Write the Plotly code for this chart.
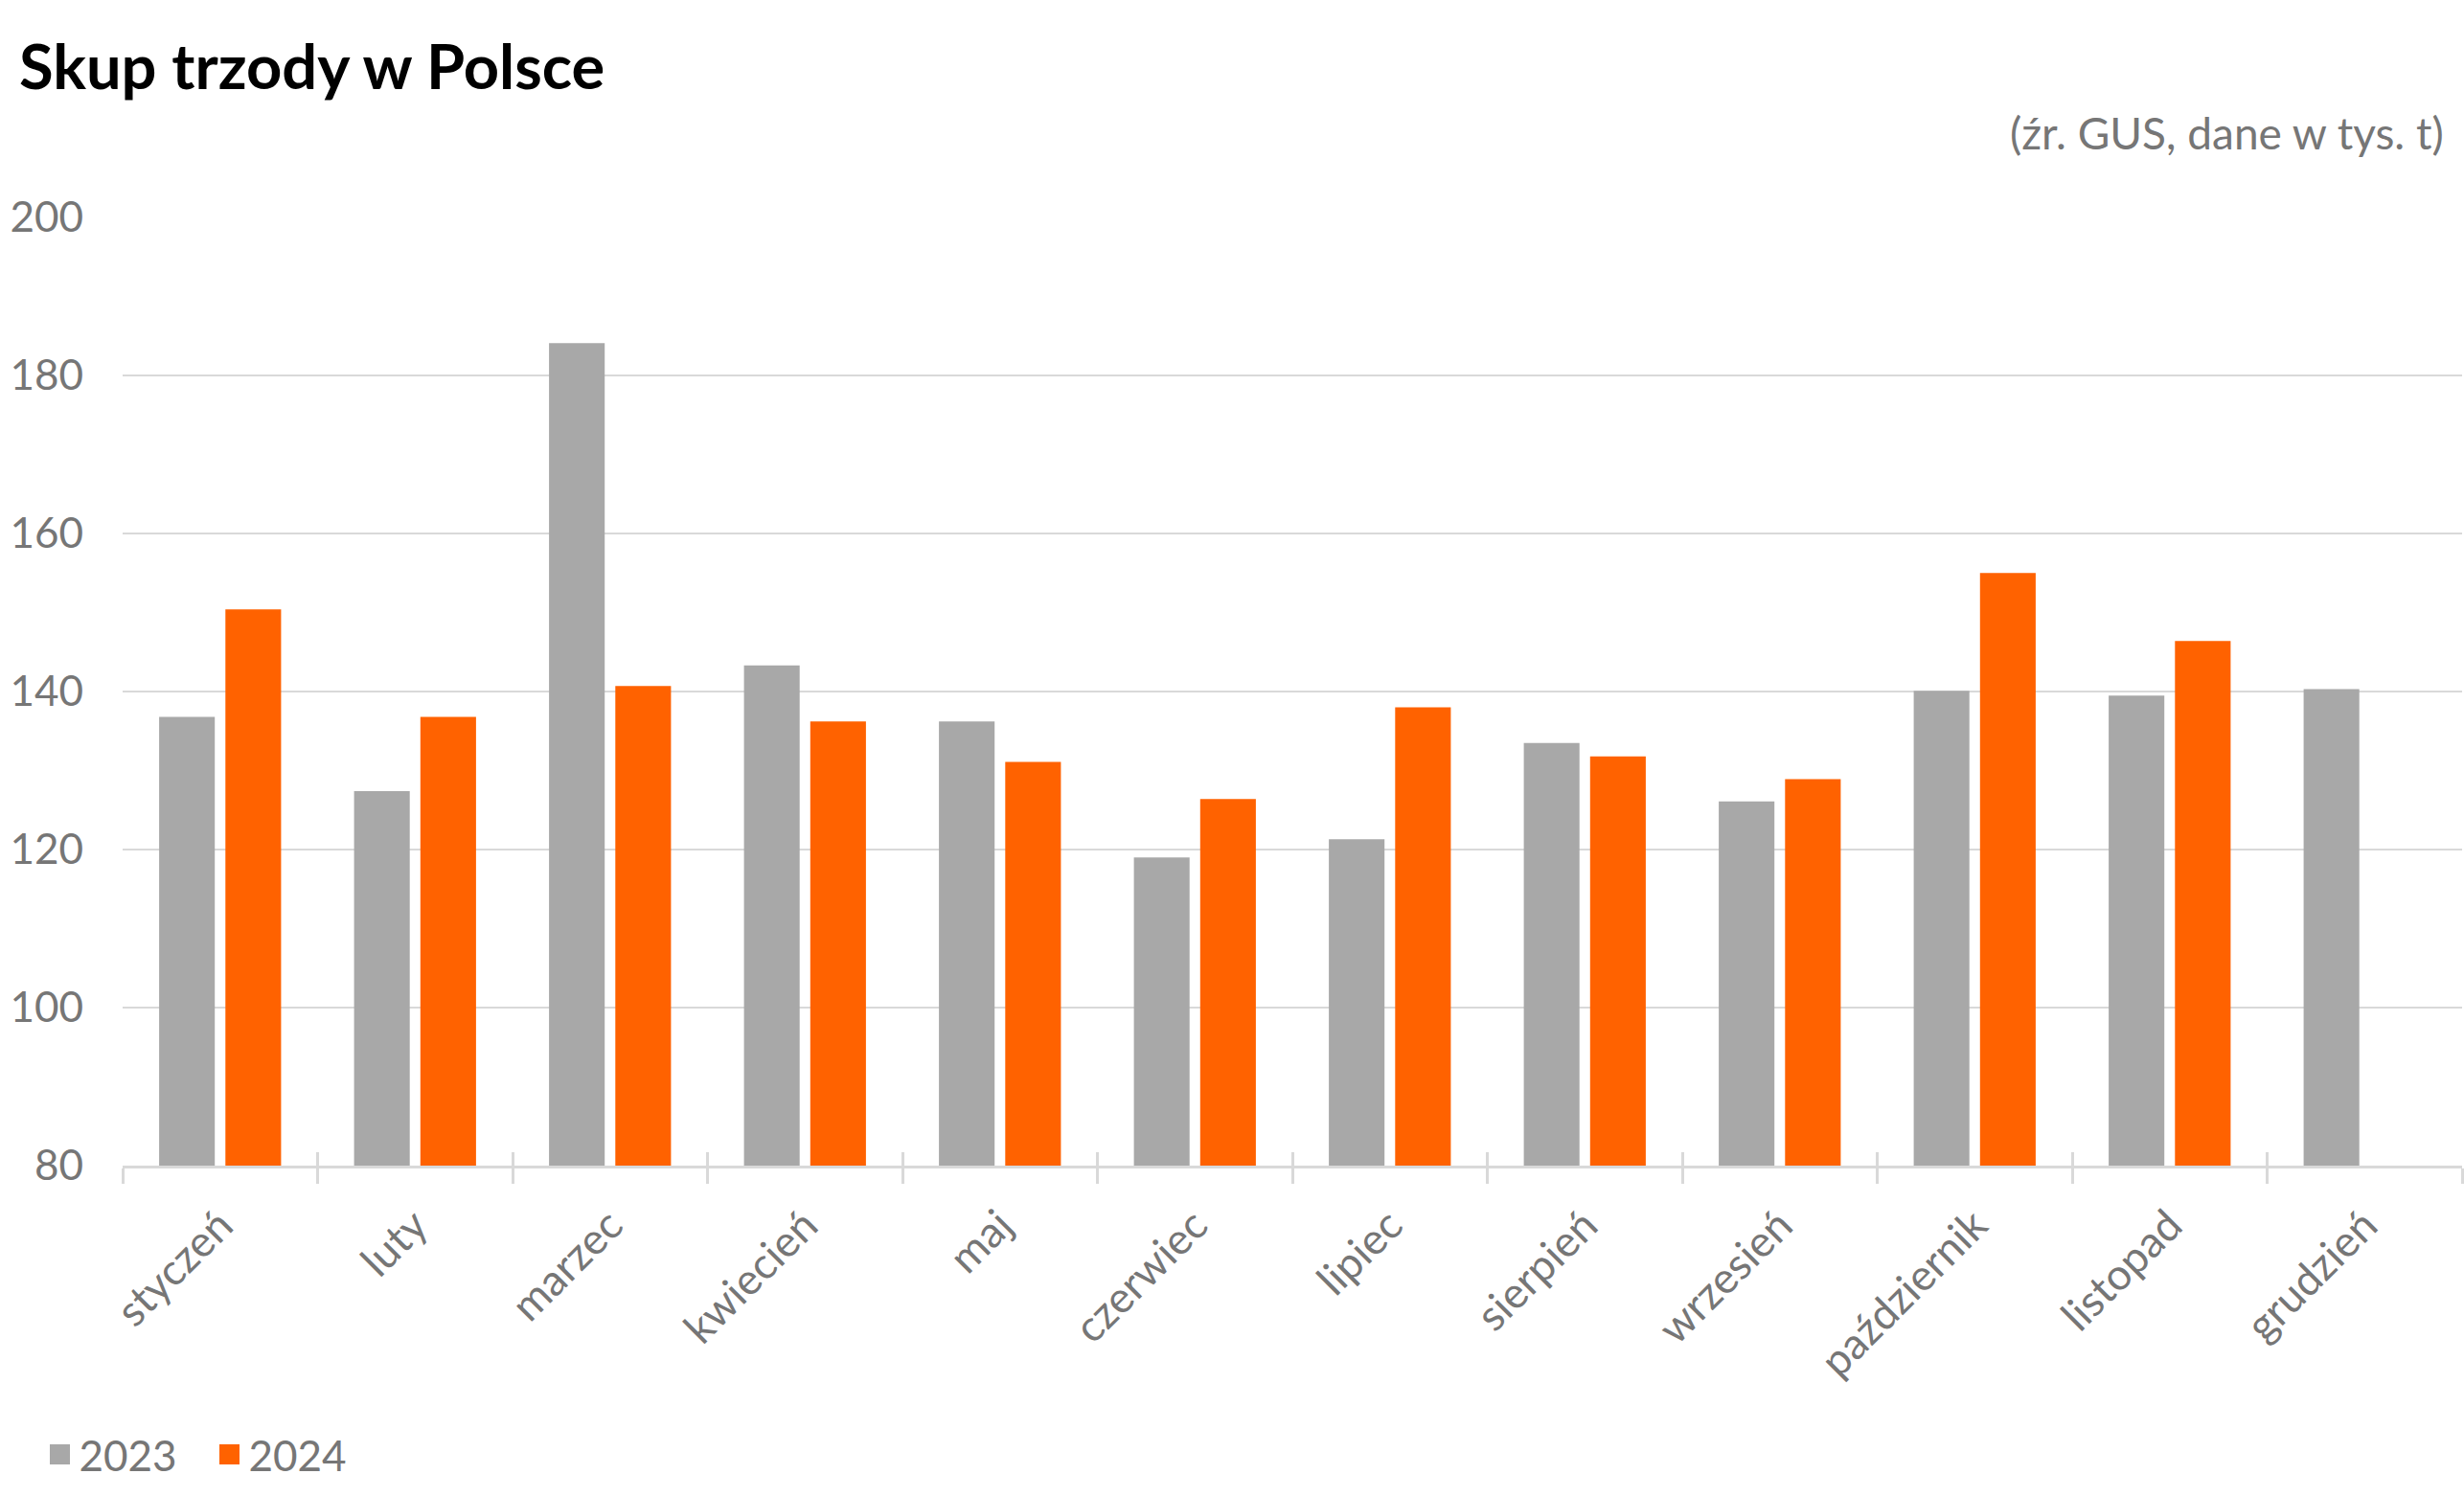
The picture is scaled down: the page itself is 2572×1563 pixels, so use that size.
import plotly.graph_objects as go

months = ["styczeń", "luty", "marzec", "kwiecień", "maj", "czerwiec", "lipiec",
          "sierpień", "wrzesień", "październik", "listopad", "grudzień"]
values_2023 = [136.8, 127.4, 184.1, 143.3, 136.2, 119.0, 121.3, 133.5, 126.1, 140.1, 139.5, 140.3]
values_2024 = [150.4, 136.8, 140.7, 136.2, 131.1, 126.4, 138.0, 131.8, 128.9, 155.0, 146.4, None]
y_ticks = [80, 100, 120, 140, 160, 180, 200]
series = [("2023", values_2023, "#a8a8a8"), ("2024", values_2024, "#ff6200")]

FONT = "Lato"
GREY_TXT = "#767676"
LINE = "#d9d9d9"

fig = go.Figure()
for name, vals, col in series:
    fig.add_trace(go.Bar(name=name, x=months, y=vals, marker_color=col,
                         marker_line_width=0, showlegend=False))
# legend entries with larger square swatches
for name, vals, col in series:
    fig.add_trace(go.Scatter(name=name, x=[months[0]], y=[None], mode="markers",
                             marker=dict(symbol="square", size=25, color=col,
                                         line=dict(width=5, color=col)),
                             hoverinfo="skip"))
# helper trace on an overlay axis to draw the upper halves of boundary ticks
fig.add_trace(go.Scatter(x=months, y=[None] * len(months), xaxis="x2", yaxis="y",
                         showlegend=False, hoverinfo="skip", mode="lines"))

fig.update_layout(
    width=2572, height=1563,
    paper_bgcolor="white", plot_bgcolor="white",
    margin=dict(l=128, r=2, t=227, b=346),
    barmode="group", bargap=0.32, bargroupgap=0.16,
    font=dict(family=FONT, color=GREY_TXT, size=44),
    title=dict(text="<b>Skup trzody w Polsce</b>", xref="container", yref="container",
               x=20 / 2572, xanchor="left", y=1 - 70 / 1563, yanchor="middle",
               font=dict(family=FONT, size=65, color="#000000")),
    showlegend=True,
    legend=dict(orientation="h", x=-0.035, xanchor="left", y=-0.305, yanchor="middle",
                font=dict(family=FONT, size=44, color=GREY_TXT), traceorder="normal",
                itemsizing="trace", entrywidth=132),
    xaxis=dict(type="category", categoryorder="array", categoryarray=months,
               range=[-0.5, 11.5], tickangle=-45, tickson="boundaries",
               ticks="outside", ticklen=16, tickwidth=3, tickcolor=LINE,
               showline=True, linecolor=LINE, linewidth=3, showgrid=False,
               ticklabelstandoff=15,
               tickfont=dict(family=FONT, size=45, color=GREY_TXT)),
    xaxis2=dict(type="category", categoryorder="array", categoryarray=months,
                overlaying="x", anchor="y", side="bottom", range=[-0.5, 11.5],
                tickson="boundaries", ticks="inside", ticklen=14, tickwidth=3,
                tickcolor=LINE, showticklabels=False, showgrid=False,
                showline=False, zeroline=False),
    yaxis=dict(range=[80, 200], tickvals=y_ticks, showgrid=True, gridcolor=LINE,
               gridwidth=2, zeroline=False, showline=False, ticks="",
               ticklabelstandoff=40,
               tickfont=dict(family=FONT, size=44, color=GREY_TXT)),
    annotations=[dict(text="(źr. GUS, dane w tys. t)", xref="paper", yref="paper",
                      x=(2553 - 128) / 2442, xanchor="right",
                      y=(1217 - 139) / 989.5, yanchor="middle", showarrow=False,
                      font=dict(family=FONT, size=46, color=GREY_TXT))],
)

fig.write_html("out.html", config={"displayModeBar": False},
               post_script="document.body.style.margin='0';")
